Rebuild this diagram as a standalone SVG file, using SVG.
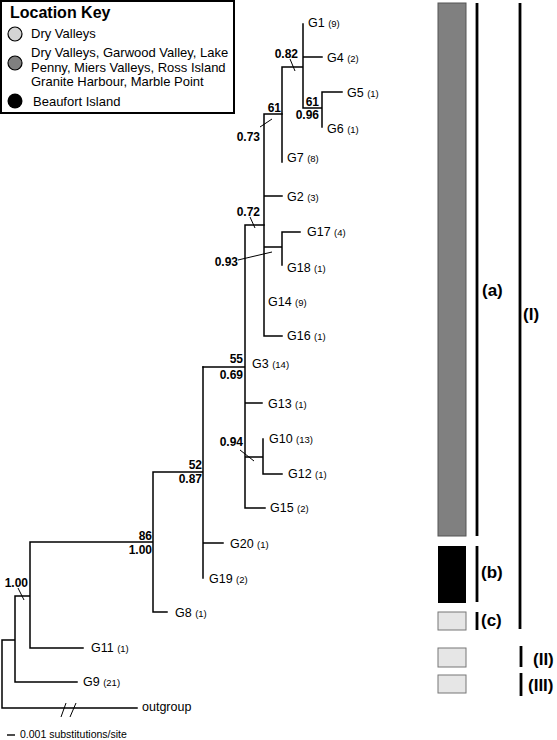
<svg xmlns="http://www.w3.org/2000/svg" width="557" height="740" viewBox="0 0 557 740">
<style>
text{font-family:"Liberation Sans",Arial,sans-serif;fill:#000}
.t{font-size:12.5px}
.n{font-size:9.5px}
.s{font-size:12px;font-weight:bold}
.k{font-size:13px}
.g{font-size:17px;font-weight:bold}
.br{fill:none;stroke:#000;stroke-width:1.5;stroke-linecap:square}
.tick{fill:none;stroke:#000;stroke-width:1}
.bar{stroke:#000;stroke-width:2.8}
</style>
<rect width="557" height="740" fill="#fff"/>
<g id="legend">
<rect x="1" y="1" width="233" height="112" fill="#fff" stroke="#000" stroke-width="2"/>
<text x="10" y="18" style="font-size:16px;font-weight:bold">Location Key</text>
<circle cx="15" cy="34" r="7" fill="#d4d4d4" stroke="#000" stroke-width="1.2"/>
<text class="k" x="31" y="38">Dry Valleys</text>
<circle cx="15" cy="63" r="7" fill="#808080" stroke="#000" stroke-width="1.2"/>
<text class="k" x="31" y="57">Dry Valleys, Garwood Valley, Lake</text>
<text class="k" x="31" y="72">Penny, Miers Valleys, Ross Island</text>
<text class="k" x="31" y="86">Granite Harbour, Marble Point</text>
<circle cx="15" cy="101" r="7.5" fill="#000"/>
<text class="k" x="33" y="106">Beaufort Island</text>
</g>
<g id="connectors">
<path class="br" d="M303 24V108M303 57H322M282 67H303M282 67V162M303 108H322M322 92V127M322 92H342"/>
<path class="br" d="M264 114H282M264 114V336M264 196H282M264 247H282M282 232V265M282 232H300M264 336H282"/>
<path class="br" d="M245 225H264M245 225V508M203 367H245M245 403H262M245 457H263M263 439V474M263 474H282M245 508H265"/>
<path class="br" d="M203 367V578M203 543H223M153 472H203M153 472V612M153 612H167M30 542H153M30 542V648M30 648H83M15 596H30M15 596V682M15 682H77M2 640H15M2 640V708M2 708H137"/>
<path class="tick" d="M290 59L295 71M272 119L260 127M250 217L255 228M238 260L272 252M240 450L254 461M18 588L24 600M61 717L66 703M70 717L76 703"/>
<path d="M7 735H15" stroke="#000" stroke-width="1.4"/>
</g>
<g id="support">
<text class="s" x="298" y="58" text-anchor="end">0.82</text>
<text class="s" x="281" y="112" text-anchor="end">61</text>
<text class="s" x="260" y="141" text-anchor="end">0.73</text>
<text class="s" x="319" y="105.5" text-anchor="end">61</text>
<text class="s" x="319" y="119" text-anchor="end">0.96</text>
<text class="s" x="260" y="216" text-anchor="end">0.72</text>
<text class="s" x="238" y="266" text-anchor="end">0.93</text>
<text class="s" x="243" y="363" text-anchor="end">55</text>
<text class="s" x="243" y="379" text-anchor="end">0.69</text>
<text class="s" x="243" y="446" text-anchor="end">0.94</text>
<text class="s" x="202" y="469" text-anchor="end">52</text>
<text class="s" x="202" y="483" text-anchor="end">0.87</text>
<text class="s" x="152" y="540" text-anchor="end">86</text>
<text class="s" x="152" y="554" text-anchor="end">1.00</text>
<text class="s" x="28" y="587" text-anchor="end">1.00</text>
</g>
<g id="G1"><text class="t" x="308" y="27">G1 <tspan class="n">(9)</tspan></text></g>
<g id="G4"><text class="t" x="327" y="62">G4 <tspan class="n">(2)</tspan></text></g>
<g id="G5"><text class="t" x="347" y="97">G5 <tspan class="n">(1)</tspan></text></g>
<g id="G6"><text class="t" x="327" y="133">G6 <tspan class="n">(1)</tspan></text></g>
<g id="G7"><text class="t" x="287" y="162">G7 <tspan class="n">(8)</tspan></text></g>
<g id="G2"><text class="t" x="287" y="201">G2 <tspan class="n">(3)</tspan></text></g>
<g id="G17"><text class="t" x="307" y="236">G17 <tspan class="n">(4)</tspan></text></g>
<g id="G18"><text class="t" x="287" y="272">G18 <tspan class="n">(1)</tspan></text></g>
<g id="G14"><text class="t" x="268" y="306">G14 <tspan class="n">(9)</tspan></text></g>
<g id="G16"><text class="t" x="287" y="340">G16 <tspan class="n">(1)</tspan></text></g>
<g id="G3"><text class="t" x="252" y="368">G3 <tspan class="n">(14)</tspan></text></g>
<g id="G13"><text class="t" x="268" y="408">G13 <tspan class="n">(1)</tspan></text></g>
<g id="G10"><text class="t" x="269" y="443">G10 <tspan class="n">(13)</tspan></text></g>
<g id="G12"><text class="t" x="288" y="478">G12 <tspan class="n">(1)</tspan></text></g>
<g id="G15"><text class="t" x="270" y="512">G15 <tspan class="n">(2)</tspan></text></g>
<g id="G20"><text class="t" x="230" y="548">G20 <tspan class="n">(1)</tspan></text></g>
<g id="G19"><text class="t" x="209" y="583">G19 <tspan class="n">(2)</tspan></text></g>
<g id="G8"><text class="t" x="175" y="617">G8 <tspan class="n">(1)</tspan></text></g>
<g id="G11"><text class="t" x="91" y="652">G11 <tspan class="n">(1)</tspan></text></g>
<g id="G9"><text class="t" x="83" y="686">G9 <tspan class="n">(21)</tspan></text></g>
<g id="outgroup"><text class="t" x="142" y="711">outgroup</text></g>
<g id="scale"><text x="20" y="738" style="font-size:10.5px">0.001 substitutions/site</text></g>
<g id="groups">
<rect x="438" y="3" width="28" height="533" fill="#808080" stroke="#555" stroke-width="1"/>
<rect x="438" y="546" width="28" height="57" fill="#000"/>
<rect x="438" y="612" width="28" height="18" fill="#e6e6e6" stroke="#777" stroke-width="1"/>
<rect x="438" y="648" width="28" height="19" fill="#e6e6e6" stroke="#777" stroke-width="1"/>
<rect x="438" y="675" width="28" height="18" fill="#e6e6e6" stroke="#777" stroke-width="1"/>
<path class="bar" d="M477 3V536M477 546V602M477 612V630M520 3V629M521 646V667M521 673V696"/>
<text class="g" x="482" y="296">(a)</text>
<text class="g" x="481" y="578">(b)</text>
<text class="g" x="481" y="626">(c)</text>
<text class="g" x="523" y="320">(I)</text>
<text class="g" x="533" y="665">(II)</text>
<text class="g" x="528" y="691">(III)</text>
</g>
</svg>
